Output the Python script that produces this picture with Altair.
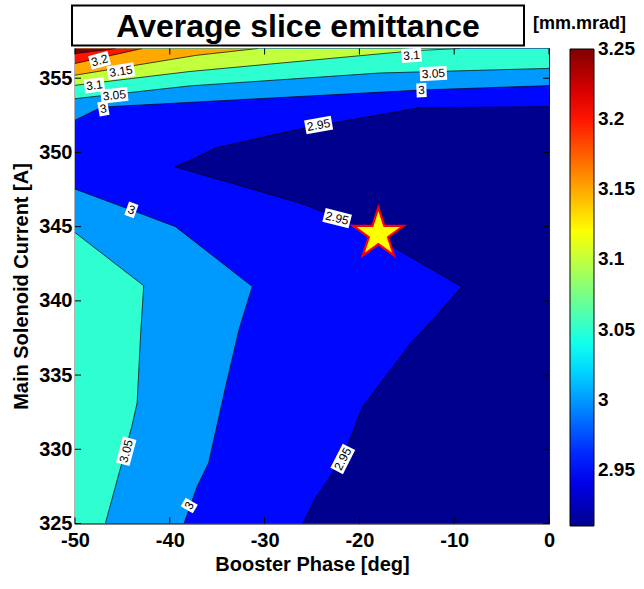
import altair as alt
import pandas as pd

FONT = "Liberation Sans"
TITLE = "Average slice emittance"
UNIT = "[mm.mrad]"
X_TITLE = "Booster Phase [deg]"
Y_TITLE = "Main Solenoid Current [A]"

X_DOMAIN = [-50, 0]
Y_DOMAIN = [325, 357]
X_TICKS = [-50, -40, -30, -20, -10, 0]
Y_TICKS = [325, 330, 335, 340, 345, 350, 355]
CBAR_DOMAIN = [2.91, 3.25]
CBAR_TICKS = [2.95, 3.0, 3.05, 3.1, 3.15, 3.2, 3.25]
CBAR_LABELS = ["2.95", "3", "3.05", "3.1", "3.15", "3.2", "3.25"]

# jet colormap stops (value -> colour)
JET_DOMAIN = [2.91, 2.9478, 3.0341, 3.1205, 3.2068, 3.25]
JET_RANGE = ["#00008F", "#0000FF", "#00FFFF", "#FFFF00", "#FF0000", "#800000"]

# contour lines
c295_x = [0, -13.7, -25.7, -35.2, -37.7, -39.45, -30.3, -26.3, -21.0, -9.2, -13.2, -14.45, -19.7, -21.0, -22.8, -24.7, -25.95]
c295_y = [353.08, 353.0, 351.65, 350.3, 349.5, 349.03, 347.34, 346.6, 345.32, 340.95, 338.06, 337.25, 332.81, 330.65, 328.43, 326.62, 325.0]
c300t_x = [0, -13.6, -46.4, -47.5, -50]
c300t_y = [354.5, 354.2, 353.08, 352.95, 352.17]
c300l_x = [-50, -44.1, -39.4, -31.3, -32.7, -34.1, -35.9, -37.1, -38.5]
c300l_y = [347.53, 346.13, 345.0, 340.97, 338.06, 334.24, 329.09, 327.51, 325.0]
c305t_x = [0, -17.8, -37.9, -50]
c305t_y = [355.66, 355.35, 354.48, 353.62]
c305l_x = [-50, -42.75, -43.05, -43.45, -44.0, -46.8]
c305l_y = [344.6, 341.02, 338.06, 333.12, 331.55, 325.0]
c310_x = [-9.4, -13.6, -16.8, -37.9, -50]
c310_y = [357, 356.87, 356.7, 355.45, 354.52]
c315_x = [-30.7, -37.2, -50]
c315_y = [357, 356.54, 355.2]
c320_x = [-42.9, -50]
c320_y = [357, 355.99]
c325_x = [-45.7, -50]
c325_y = [357, 356.66]

# contour labels
lab_text = ["3.2", "3.15", "3.1", "3.05", "3", "3.1", "3.05", "3", "2.95", "3", "2.95", "3.05", "3", "2.95"]
lab_x = [-47.4, -45.15, -47.95, -45.85, -47.0, -14.5, -12.2, -13.45, -24.3, -44.05, -22.35, -44.6, -37.95, -21.75]
lab_y = [356.2, 355.47, 354.52, 353.85, 352.95, 356.54, 355.31, 354.19, 351.85, 346.13, 345.57, 329.87, 326.21, 329.35]
lab_angle = [345, 351, 353, 354, 350, 356, 357, 358, 350, 20, 14, 285, 300, 297]

# optimum marker
star_x = [-18.0]
star_y = [344.5]

x0, x1 = X_DOMAIN
y0, y1 = Y_DOMAIN

# polygons (superlevel sets), painted in order
polys = [
    (2.95, list(zip([x0, x1, x1, x0], [y0, y0, y1, y1]))),
    (2.91, list(zip(c295_x, c295_y)) + [(x1, y0)]),
    (3.0, list(zip(c300t_x, c300t_y)) + [(x0, y1), (x1, y1)]),
    (3.0, list(zip(c300l_x, c300l_y)) + [(x0, y0)]),
    (3.05, list(zip(c305t_x, c305t_y)) + [(x0, y1), (x1, y1)]),
    (3.05, list(zip(c305l_x, c305l_y)) + [(x0, y0)]),
    (3.1, list(zip(c310_x, c310_y)) + [(x0, y1)]),
    (3.15, list(zip(c315_x, c315_y)) + [(x0, y1)]),
    (3.2, list(zip(c320_x, c320_y)) + [(x0, y1)]),
    (3.25, list(zip(c325_x, c325_y)) + [(x0, y1)]),
]
stage_of = {2.95: 0, 2.91: 1, 3.0: 2, 3.05: 3, 3.1: 4, 3.15: 5, 3.2: 6, 3.25: 7}

rows = []
for pid, (lev, pts) in enumerate(polys):
    for i, (px, py) in enumerate(pts):
        rows.append({"pid": pid, "level": lev, "stage": stage_of[lev], "i": i, "x": px, "y": py})
poly_df = pd.DataFrame(rows)

lines = [(c295_x, c295_y), (c300t_x, c300t_y), (c300l_x, c300l_y), (c305t_x, c305t_y),
         (c305l_x, c305l_y), (c310_x, c310_y), (c315_x, c315_y), (c320_x, c320_y), (c325_x, c325_y)]
lrows = []
for lid, (lx, ly) in enumerate(lines):
    for i, (px, py) in enumerate(zip(lx, ly)):
        lrows.append({"lid": lid, "i": i, "x": px, "y": py})
line_df = pd.DataFrame(lrows)

lab_df = pd.DataFrame({"text": lab_text, "x": lab_x, "y": lab_y, "angle": lab_angle,
                       "box": [str(min(len(t), 4)) if len(t) != 2 else "3" for t in lab_text]})

W, H = 474, 475
CB_X, CB_W, CB_LEN = 495, 24, 477

xaxis = alt.Axis(title=X_TITLE, values=X_TICKS, labelExpr="'' + datum.value", ticks=False, domain=False,
                 grid=False, labelFont=FONT, labelFontSize=20, labelFontWeight="bold", labelColor="black",
                 labelPadding=7, labelFlush=False, labelOverlap=False,
                 titleFont=FONT, titleFontSize=20, titleFontWeight="bold", titleColor="black", titlePadding=4)
yaxis = alt.Axis(title=Y_TITLE, values=Y_TICKS, labelExpr="'' + datum.value", ticks=False, domain=False,
                 grid=False, labelFont=FONT, labelFontSize=20, labelFontWeight="bold", labelColor="black",
                 labelPadding=3, labelFlush=False, labelOverlap=False,
                 titleFont=FONT, titleFontSize=20, titleFontWeight="bold", titleColor="black", titlePadding=7)

XS = alt.Scale(domain=X_DOMAIN, nice=False, zero=False)
YS = alt.Scale(domain=Y_DOMAIN, nice=False, zero=False)
X = alt.X("x:Q", scale=XS, axis=xaxis)
Y_AX = alt.Y("y:Q", scale=YS, axis=yaxis)
Y = alt.Y("y:Q", scale=YS, axis=None)

FILL = alt.Fill("level:Q",
                scale=alt.Scale(domain=JET_DOMAIN, range=JET_RANGE, interpolate="rgb", nice=False, zero=False),
                legend=alt.Legend(title=None, orient="none", legendX=CB_X, legendY=0.5, direction="vertical",
                                  gradientLength=CB_LEN, gradientThickness=CB_W, gradientStrokeColor="black",
                                  gradientStrokeWidth=1, values=CBAR_TICKS, labelOpacity=0,
                                  labelFontSize=1, labelOverlap=False))

layers = []
for st in range(8):
    layers.append(
        alt.Chart(poly_df).transform_filter(alt.datum.stage == st)
        .mark_line(strokeOpacity=0, strokeWidth=0, clip=True, interpolate="linear")
        .encode(x=X, y=Y_AX if st == 0 else Y, fill=FILL, detail="pid:N", order="i:Q")
    )

contours = alt.Chart(line_df).mark_line(color="black", strokeWidth=0.7, clip=True).encode(
    x=X, y=Y, detail="lid:N", order="i:Q")

BOX_PATHS = ["M-0.5,-0.7L0.5,-0.7L0.5,0.7L-0.5,0.7Z",
             "M-1,-0.7L1,-0.7L1,0.7L-1,0.7Z",
             "M-1.35,-0.7L1.35,-0.7L1.35,0.7L-1.35,0.7Z"]
boxes = alt.Chart(lab_df).mark_point(filled=True, fill="white", opacity=1, strokeWidth=0, size=400).encode(
    x=X, y=Y,
    shape=alt.Shape("box:N", scale=alt.Scale(domain=["1", "3", "4"], range=BOX_PATHS), legend=None),
    angle=alt.Angle("angle:Q", scale=None))
labels = alt.Chart(lab_df).mark_text(font=FONT, fontSize=12, color="black", align="center",
                                     baseline="middle").encode(
    x=X, y=Y, text="text:N", angle=alt.Angle("angle:Q", scale=None))

ticks_y = pd.DataFrame({"y": Y_TICKS})
ticks_x = pd.DataFrame({"x": X_TICKS})
tk_l = alt.Chart(ticks_y).mark_rule(color="black", strokeWidth=1).encode(y=Y, x=alt.value(0), x2=alt.value(6))
tk_r = alt.Chart(ticks_y).mark_rule(color="black", strokeWidth=1).encode(y=Y, x=alt.value(W - 6), x2=alt.value(W))
tk_b = alt.Chart(ticks_x).mark_rule(color="black", strokeWidth=1).encode(x=X, y=alt.value(H - 6), y2=alt.value(H))
tk_t = alt.Chart(ticks_x).mark_rule(color="black", strokeWidth=1).encode(x=X, y=alt.value(0), y2=alt.value(6))

star_path = ("M0,-1L0.2245,-0.309L0.951,-0.309L0.363,0.118L0.588,0.809L0,0.382L-0.588,0.809"
             "L-0.363,0.118L-0.951,-0.309L-0.2245,-0.309Z")
star = alt.Chart(pd.DataFrame({"x": star_x, "y": star_y})).mark_point(
    shape=star_path, size=2800, filled=True, fill="#FFFF00", stroke="#FF0000", strokeWidth=2.2, opacity=1
).encode(x=X, y=Y)

# colour-bar tick labels on their own value scale
cb_df = pd.DataFrame({"cb": CBAR_TICKS, "lab": CBAR_LABELS})
CBY = alt.Y("cb:Q", scale=alt.Scale(domain=CBAR_DOMAIN, range=[CB_LEN + 0.5, 0.5], nice=False, zero=False),
            axis=None)
cb_text = alt.Chart(cb_df).mark_text(font=FONT, fontSize=19, fontWeight="bold", color="black",
                                     align="left", baseline="middle").encode(
    x=alt.value(CB_X + CB_W + 4), y=CBY, text="lab:N")

one = pd.DataFrame({"a": [0]})
title_box = alt.Chart(one).mark_rect(fill="white", stroke="black", strokeWidth=2).encode(
    x=alt.value(-3), x2=alt.value(449), y=alt.value(-43), y2=alt.value(-3))
title_txt = alt.Chart(one).mark_text(font=FONT, fontSize=32, fontWeight="bold", color="black",
                                     align="center", baseline="middle").encode(
    x=alt.value(223), y=alt.value(-22), text=alt.value(TITLE))
unit_txt = alt.Chart(one).mark_text(font=FONT, fontSize=18, fontWeight="bold", color="black",
                                    align="left", baseline="middle").encode(
    x=alt.value(458), y=alt.value(-25), text=alt.value(UNIT))

chart = alt.layer(*layers, contours, boxes, labels, tk_l, tk_r, tk_b, tk_t, star, cb_text,
                  title_box, title_txt, unit_txt).resolve_scale(y="independent").properties(
    width=W, height=H,
    autosize=alt.AutoSizeParams(type="none"),
    padding={"left": 75, "top": 48.5, "right": 95, "bottom": 65.5},
    background="white",
).configure_view(stroke="black", strokeWidth=1.2)

chart.save("out.html", embed_options={"renderer": "svg", "actions": False})
